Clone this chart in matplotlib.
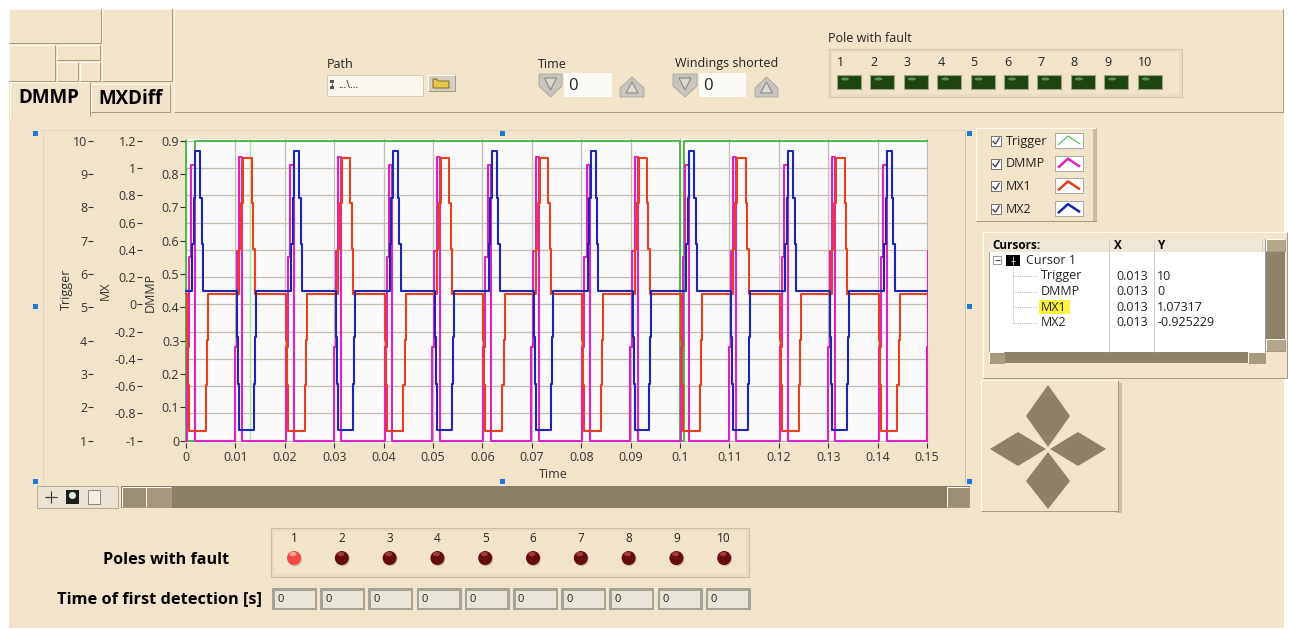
import matplotlib.pyplot as plt
from matplotlib.patches import Rectangle, Polygon, Ellipse
from matplotlib.lines import Line2D

plt.rcParams['font.family'] = ['Open Sans', 'DejaVu Sans']

# =========================================================
# DATA
# =========================================================

# the drive runs with a 20 ms period; every period repeats the same steps
period_starts = [0.0, 0.02, 0.04, 0.06, 0.08, 0.10, 0.12, 0.14]

# switching instants inside one period and the value held after each one
mx1_offsets = [0.0, 0.0002, 0.0004, 0.0006, 0.0040, 0.0043, 0.0045,
               0.0108, 0.0112, 0.0116, 0.0133, 0.0136, 0.0139]
mx1_values = [0.073, -0.26, -0.593, -0.927, -0.593, -0.26, 0.073,
              0.407, 0.74, 1.073, 0.74, 0.407, 0.073]

mx2_offsets = [0.0, 0.0013, 0.0016, 0.0019, 0.0029, 0.0032, 0.0035,
               0.0104, 0.0106, 0.0108, 0.0138, 0.0140, 0.0142]
mx2_values = [0.1, 0.442, 0.783, 1.125, 0.783, 0.442, 0.1,
              -0.242, -0.583, -0.925, -0.583, -0.242, 0.1]

dmmp_offsets = [0.0, 0.0002, 0.0006, 0.0011, 0.0018,
                0.0099, 0.0103, 0.0108, 0.0114]
dmmp_values = [0.0, 0.28, 0.55, 0.827, 0.0,
               0.28, 0.57, 0.852, 0.0]

trigger_t = [0.0, 0.0001, 0.0019, 0.1001, 0.1009, 0.1502]
trigger_v = [10, 1, 10, 1, 10, 10]

cursor_x = 0.013
cursor_rows = ["Trigger", "DMMP", "MX1", "MX2"]
cursor_xvals = ["0.013", "0.013", "0.013", "0.013"]
cursor_yvals = ["10", "0", "1.07317", "-0.925229"]

x_ticks = [0, 0.01, 0.02, 0.03, 0.04, 0.05, 0.06, 0.07,
           0.08, 0.09, 0.1, 0.11, 0.12, 0.13, 0.14, 0.15]
x_tick_labels = ["0", "0.01", "0.02", "0.03", "0.04", "0.05", "0.06", "0.07",
                 "0.08", "0.09", "0.1", "0.11", "0.12", "0.13", "0.14", "0.15"]
trig_ticks = [1, 2, 3, 4, 5, 6, 7, 8, 9, 10]
mx_ticks = [-1, -0.8, -0.6, -0.4, -0.2, 0, 0.2, 0.4, 0.6, 0.8, 1, 1.2]
mx_tick_labels = ["-1", "-0.8", "-0.6", "-0.4", "-0.2", "0",
                  "0.2", "0.4", "0.6", "0.8", "1", "1.2"]
dmmp_ticks = [0, 0.1, 0.2, 0.3, 0.4, 0.5, 0.6, 0.7, 0.8, 0.9]
dmmp_tick_labels = ["0", "0.1", "0.2", "0.3", "0.4", "0.5", "0.6", "0.7", "0.8", "0.9"]

series_names = ["Trigger", "DMMP", "MX1", "MX2"]
series_colors = ["#4DB84A", "#E022C4", "#E8401E", "#1C26B0"]

poles = ["1", "2", "3", "4", "5", "6", "7", "8", "9", "10"]
pole_fault = [1, 0, 0, 0, 0, 0, 0, 0, 0, 0]
first_detection = ["0", "0", "0", "0", "0", "0", "0", "0", "0", "0"]

# =========================================================
# HELPERS (pixel coordinates, y measured from the top)
# =========================================================
W, H = 1289, 630
BG = "#F1E4CB"
HI = "#FFFBF2"
LO = "#A89A80"

fig = plt.figure(figsize=(W / 100, H / 100), dpi=100)
fig.patch.set_facecolor("white")


def fx(x):
    return x / W


def fy(y):
    return 1 - y / H


def rect(x0, y0, x1, y1, fc, ec="none", lw=0.0, z=1.0):
    p = Rectangle((fx(x0), fy(y1)), (x1 - x0) / W, (y1 - y0) / H,
                  transform=fig.transFigure, fc=fc, ec=ec, lw=lw, zorder=z)
    fig.patches.append(p)


def poly(pts, fc, ec="none", lw=0.0, z=2.0):
    p = Polygon([(fx(x), fy(y)) for x, y in pts], closed=True,
                transform=fig.transFigure, fc=fc, ec=ec, lw=lw, zorder=z)
    fig.patches.append(p)


def ell(cx, cy, rx, ry, fc, z=2.0):
    fig.patches.append(Ellipse((fx(cx), fy(cy)), 2 * rx / W, 2 * ry / H,
                               transform=fig.transFigure, fc=fc, ec="none", zorder=z))


def seg(xs, ys, color, lw=0.72, z=2.0, ls="-"):
    fig.lines.append(Line2D([fx(x) for x in xs], [fy(y) for y in ys],
                            transform=fig.transFigure, color=color, lw=lw,
                            zorder=z, ls=ls, solid_capstyle="butt"))


def text(x, y, s, size=9, ha="left", va="center", z=4, **kw):
    fig.text(fx(x), fy(y), s, fontsize=size, ha=ha, va=va, zorder=z,
             color=kw.pop("color", "#222222"), **kw)


def bevel(x0, y0, x1, y1, fc=BG, raised=True, z=1.0):
    rect(x0, y0, x1, y1, fc, z=z)
    a, b = (HI, LO) if raised else (LO, HI)
    seg([x0, x0, x1], [y1, y0, y0], a, z=z + 0.05)
    seg([x0, x1, x1], [y1, y1, y0], b, z=z + 0.05)


def tile(offsets, values):
    t, v = [], []
    for p in period_starts:
        t += [p + o for o in offsets]
        v += values
    return t, v


# panel background
rect(9, 9, 1284, 628, BG, z=0.1)

# =========================================================
# TAB CONTROL HEADER
# =========================================================
bevel(9, 9, 101, 43)
bevel(9, 45, 55, 81)
bevel(57, 45, 100, 60)
bevel(57, 62, 78, 81)
bevel(80, 62, 100, 81)
bevel(102, 9, 172, 81)
bevel(174, 9, 1283, 112)
rect(10, 82, 90, 118, BG, z=1.2)
seg([10, 10, 90], [118, 82, 82], HI, z=1.3)
seg([90, 90], [82, 116], LO, z=1.3)
bevel(91, 84, 170, 112, fc="#EFE2C8")
text(49, 98, "DMMP", size=13.5, ha="center", weight="bold", color="black")
text(130, 99, "MXDiff", size=13.5, ha="center", weight="bold", color="black")

# path control
text(327, 65, "Path")
rect(327, 75, 423, 96, "#FBF7EE", ec="#D7CCB8", lw=0.7, z=1.5)
rect(330, 80, 334, 83, "#555555", z=2)
rect(330, 86, 334, 89, "#555555", z=2)
seg([332, 332], [83, 86], "#555555")
text(338, 86, "...\\...", size=7.5)
bevel(428, 75, 455, 91, fc="#D5CFC2", z=1.5)
poly([(433, 79), (437, 79), (438, 81), (449, 81), (449, 88), (433, 88)],
     "#E6C54A", ec="#6B5A20", lw=0.6, z=2)


def spin(x0, x1, y0, y1, down):
    xc = (x0 + x1) / 2
    if down:
        poly([(x0, y0), (x1, y0), (x1, y0 + 12), (xc, y1), (x0, y0 + 12)],
             "#C8C5BF", ec="#A9A59E", lw=0.6, z=2)
        poly([(xc - 6, y0 + 4), (xc + 6, y0 + 4), (xc, y0 + 16)],
             "#D9D7D2", ec="#8D8A84", lw=0.8, z=2.1)
    else:
        poly([(x0, y1), (x1, y1), (x1, y1 - 9), (xc, y0), (x0, y1 - 9)],
             "#C8C5BF", ec="#A9A59E", lw=0.6, z=2)
        poly([(xc - 6, y1 - 4), (xc + 6, y1 - 4), (xc, y0 + 5)],
             "#D9D7D2", ec="#8D8A84", lw=0.8, z=2.1)


text(538, 65, "Time")
spin(539, 562, 74, 97, True)
rect(564, 73, 612, 97, "#FCFAF5", z=1.5)
text(568, 86, "0", size=12)
spin(620, 644, 77, 97, False)

text(675, 63, "Windings shorted")
spin(673, 697, 74, 97, True)
rect(699, 73, 746, 97, "#FCFAF5", z=1.5)
text(703, 86, "0", size=12)
spin(755, 778, 77, 97, False)

# pole with fault (top)
text(828, 39, "Pole with fault")
rect(829, 49, 1182, 97, "#E9DCC2", ec="#D6C8AC", lw=0.8, z=1.5)
rect(832, 52, 1179, 94, BG, z=1.6)
for i, p in enumerate(poles):
    x = 837 + i * 33.4
    text(x, 63, p)
    rect(x, 75, x + 24, 89, "#1E4411", ec="#9BA384", lw=0.8, z=2)
    ell(x + 8, 79, 4, 1.5, "#5F8C52", z=2.1)

# =========================================================
# GRAPH
# =========================================================
L, R, T, B = 184.5, 928.0, 139.0, 443.0
ax_rect = [fx(L), fy(B), (R - L) / W, (B - T) / H]


def ylims(v_top, v_bot):
    # v_top is drawn at row 140.7, v_bot at row 440.7
    per_px = (v_top - v_bot) / 300.0
    return v_bot - (B - 440.7) * per_px, v_top + (140.7 - T) * per_px


def left_scale(a, spine_px, ticks, labels, title, title_px):
    a.spines["left"].set_position(("axes", (spine_px - L) / (R - L)))
    for s in a.spines.values():
        s.set_visible(False)
    a.yaxis.tick_left()
    a.set_yticks(ticks, labels=labels)
    a.tick_params(axis="y", direction="in", length=3.8, width=0.8, pad=0.5,
                  labelsize=9, colors="#333333", left=True, right=False)
    a.set_ylabel(title, fontsize=9, color="#333333", va="center", ha="center")
    a.yaxis.set_label_coords((title_px[0] - L) / (R - L), (B - title_px[1]) / (B - T))


# bottom layer: background, grid and the MX scale
ax = fig.add_axes(ax_rect, zorder=5)
ax.set_facecolor("#FAFAFA")
ax.set_xlim(-0.0003, 0.1502)
ax.set_ylim(*ylims(1.2, -1))
left_scale(ax, 137, mx_ticks, mx_tick_labels, "MX", (105, 291))
ax.set_xticks(x_ticks, labels=x_tick_labels)
ax.tick_params(axis="x", direction="out", length=3.8, width=0.8, pad=2,
               labelsize=9, colors="#333333")
ax.grid(True, color="#C5BBB0", lw=0.9)
ax.set_axisbelow(True)
ax.set_xlabel("Time", fontsize=9, color="#333333", va="center")
ax.xaxis.set_label_coords((553 - L) / (R - L), (B - 474) / (B - T))
ax.axvline(cursor_x, color="#A6EBA0", lw=1.0, zorder=1)

ax_trig = fig.add_axes(ax_rect, sharex=ax, zorder=6)
ax_trig.set_facecolor("none")
ax_trig.set_ylim(*ylims(10, 1))
left_scale(ax_trig, 88, trig_ticks, [str(v) for v in trig_ticks], "Trigger", (66, 289))
ax_trig.tick_params(axis="x", bottom=False, labelbottom=False)
ax_trig.step(trigger_t, trigger_v, where="post", color=series_colors[0], lw=1.4)

ax_dmmp = fig.add_axes(ax_rect, sharex=ax, zorder=7)
ax_dmmp.set_facecolor("none")
ax_dmmp.set_ylim(*ylims(0.9, 0))
left_scale(ax_dmmp, 180, dmmp_ticks, dmmp_tick_labels, "DMMP", (150, 292))
ax_dmmp.tick_params(axis="x", bottom=False, labelbottom=False)
t, v = tile(dmmp_offsets, dmmp_values)
ax_dmmp.step(t, v, where="post", color=series_colors[1], lw=1.5)

ax_mx = fig.add_axes(ax_rect, sharex=ax, sharey=ax, zorder=8)
ax_mx.set_facecolor("none")
ax_mx.set_axis_off()
t, v = tile(mx1_offsets, mx1_values)
ax_mx.step(t, v, where="post", color=series_colors[2], lw=1.5)
t, v = tile(mx2_offsets, mx2_values)
ax_mx.step(t, v, where="post", color=series_colors[3], lw=1.5)

# graph frame, selection handles and scrollbar
seg([40, 966], [130, 130], "#E2D5BB")
seg([43, 43], [130, 482], "#E2D5BB")
seg([965, 965], [130, 482], "#CDBFA4")
for hx, hy in [(35, 133), (502, 133), (969, 133), (35, 306), (969, 306),
               (35, 481), (502, 481), (969, 481)]:
    rect(hx - 2.5, hy - 2.5, hx + 2.5, hy + 2.5, "#1E78D6", z=9)

rect(37, 486, 118, 508, "#EAE2D2", ec="#B5AA95", lw=0.7, z=1.5)
seg([45, 57], [497, 497], "#333333", lw=0.8)
seg([51, 51], [491, 503], "#333333", lw=0.8)
rect(66, 490, 79, 504, "#1E1E1E", z=2)
ell(72.5, 495.5, 3.5, 3.5, "#DDEEDD", z=2.1)
rect(88, 490, 100, 504, "#F4EEE2", ec="#777777", lw=0.6, z=2)
rect(121, 486, 970, 508, "#8B7F68", z=1.5)
bevel(122, 487, 146, 507, fc="#9A8E76", z=1.6)
bevel(146, 487, 171, 507, fc="#A5987D", z=1.6)
bevel(947, 487, 969, 507, fc="#9A8E76", z=1.6)

# =========================================================
# PLOT LEGEND
# =========================================================
bevel(976, 128, 1096, 221)
rect(1093, 129, 1097, 221, "#C9BB9F", z=1.2)
for i, (name, col) in enumerate(zip(series_names, series_colors)):
    y = 141 + i * 22.7
    rect(991, y - 5, 1001, y + 5, "white", ec="#707070", lw=0.7, z=2)
    seg([992.5, 995.5, 999.5], [y, y + 3, y - 3.5], "#333333", lw=0.9, z=2.2)
    text(1006, y, name)
    rect(1055, y - 8, 1083, y + 7, "white", ec="#A8A8A8", lw=0.7, z=2)
    seg([1058, 1068, 1080], [y + 4, y - 5, y + 3], col,
        lw=0.8 if i == 0 else 1.8, z=2.2)

# =========================================================
# CURSOR LEGEND
# =========================================================
bevel(983, 232, 1287, 378)
rect(989, 239, 1265, 352, "white", ec="#9E9E9E", lw=0.7, z=1.5)
rect(989, 239, 1265, 252, "#EEE6D6", z=1.6)
text(992, 245.5, "Cursors:", size=8.5, weight="bold", color="black")
text(1114, 245.5, "X", size=8.5, weight="bold", color="black")
text(1157, 245.5, "Y", size=8.5, weight="bold", color="black")
seg([1109, 1109], [239, 352], "#CFCFCF")
seg([1154, 1154], [239, 352], "#CFCFCF")
seg([1262, 1262], [239, 252], "#CFCFCF")
rect(993, 256, 1001, 264, "white", ec="#8A8A8A", lw=0.6, z=2)
seg([994.5, 999.5], [260, 260], "#333333", lw=0.7, z=2.2)
rect(1006, 255, 1020, 266, "black", z=2)
seg([1013, 1013], [256, 265], "white", lw=0.5, z=2.2)
seg([1011, 1015], [260.5, 260.5], "white", lw=0.5, z=2.2)
text(1026, 260.5, "Cursor 1")
seg([1013, 1013], [267, 323], "#9A9A9A", lw=0.6, ls=":")
for i, (name, xv, yv) in enumerate(zip(cursor_rows, cursor_xvals, cursor_yvals)):
    y = 276 + i * 15.6
    seg([1013, 1036], [y, y], "#9A9A9A", lw=0.6, ls=":")
    if name == "MX1":
        rect(1039, y - 7, 1070, y + 7, "#FFF23C", z=1.8)
    text(1041, y, name)
    text(1116, y, xv)
    text(1157, y, yv)
rect(1266, 239, 1285, 352, "#8E826B", z=1.6)
bevel(1266, 239, 1285, 251, fc="#B3A78E", z=1.7)
bevel(1266, 339, 1285, 351, fc="#B3A78E", z=1.7)
rect(989, 352, 1265, 363, "#8E826B", z=1.6)
bevel(989, 352, 1004, 363, fc="#A69A80", z=1.7)
bevel(1248, 352, 1265, 363, fc="#A69A80", z=1.7)

# =========================================================
# CURSOR MOVER PAD
# =========================================================
rect(1116, 383, 1122, 513, "#CDBFA3", z=0.9)
bevel(981, 380, 1118, 511)
dia = "#8D8067"
poly([(1048, 385), (1070, 416), (1048, 447), (1026, 416)], dia)
poly([(990, 449), (1018, 432), (1046, 449), (1018, 466)], dia)
poly([(1050, 449), (1078, 432), (1106, 449), (1078, 466)], dia)
poly([(1048, 452), (1070, 481), (1048, 509), (1026, 481)], dia)

# =========================================================
# BOTTOM INDICATORS
# =========================================================
text(229, 560, "Poles with fault", size=11.6, ha="right", weight="bold", color="black")
rect(271, 528, 749, 577, "#E9DCC2", ec="#CDBFA3", lw=0.8, z=1.5)
rect(274, 531, 746, 574, BG, z=1.6)
for i, (p, on) in enumerate(zip(poles, pole_fault)):
    x = 294 + i * 47.8
    text(x, 538, p, size=8.5, ha="center")
    ell(x + 0.8, 559, 7.2, 7.2, "#C9B999", z=2)
    ell(x, 558, 7, 7, "#F24A42" if on else "#650B12", z=2.1)
    ell(x - 1, 554, 3.5, 2.2, "#FFA199" if on else "#9C3A40", z=2.2)

text(262, 599, "Time of first detection [s]", size=11.8, ha="right",
     weight="bold", color="black")
for i, val in enumerate(first_detection):
    x0 = 272 + i * 48.2
    rect(x0, 588, x0 + 45, 610, "#A5A298", z=2)
    rect(x0 + 2.5, 590.5, x0 + 42.5, 607.5, "#EAE5D9", z=2.1)
    text(x0 + 5, 599, val, size=8)

fig.savefig("out.png", dpi=100, facecolor=fig.get_facecolor())
